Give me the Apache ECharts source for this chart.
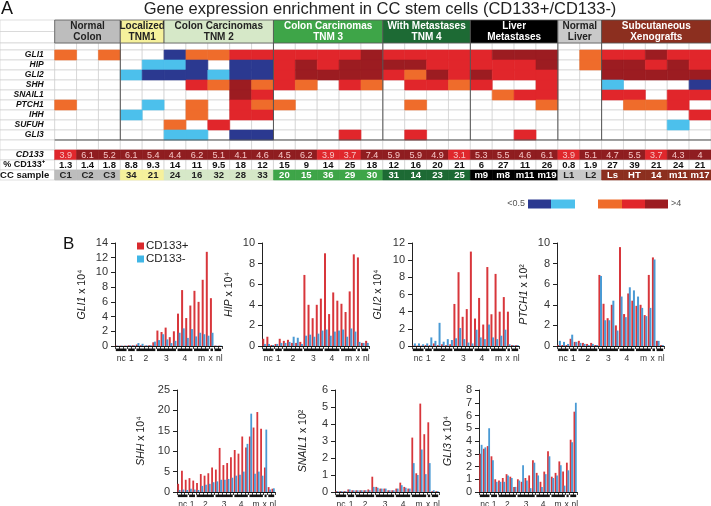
<!DOCTYPE html>
<html><head><meta charset="utf-8">
<script src="https://cdn.jsdelivr.net/npm/echarts@6/dist/echarts.min.js"></script>
<style>html,body{margin:0;padding:0;background:#fff}#c{width:711px;height:506px}</style>
</head><body><div id="c"></div>
<script>
const FF = '"Liberation Sans", Arial, sans-serif';

// ---------------- Panel A data ----------------
const groupLine1 = ['Normal','Localized','Colon Carcinomas','Colon Carcinomas','With Metastases','Liver','Normal','Subcutaneous'];
const groupLine2 = ['Colon','TNM1','TNM 2','TNM 3','TNM 4','Metastases','Liver','Xenografts'];
const groupSizes = [3,2,5,5,4,4,2,5];
const sampleNames = ['C1','C2','C3','34','21','24','16','32','28','33','20','15','36','29','30','31','14','23','25','m9','m8','m11','m19','L1','L2','Ls','HT','14','m11','m17'];
const cd133Ratio = [3.9,6.1,5.2,6.1,5.4,4.4,6.2,5.1,4.1,4.6,4.5,6.2,3.9,3.7,7.4,5.9,5.9,4.9,3.1,5.3,5.5,4.6,6.1,3.9,5.1,4.7,5.5,3.7,4.3,4];
const pctCD133 = [1.3,1.4,1.8,8.8,9.3,14,11,9.5,18,12,15,9,14,25,18,12,16,20,21,6,27,11,26,0.8,1.9,27,39,21,24,21];
const genes = ['GLI1','HIP','GLI2','SHH','SNAIL1','PTCH1','IHH','SUFUH','GLI3'];
// enrichment class: 0 none, 1 <0.5, 2 low, 3 moderate, 4 high, 5 >4
const heatGLI1   = [3,0,3,0,0,1,3,3,4,4, 4,4,4,4,5, 4,4,4,4, 4,5,5,5, 0,3, 4,4,5,4,4];
const heatHIP    = [0,0,0,0,2,2,1,0,1,1, 4,5,4,5,5, 5,5,4,4, 4,4,4,5, 0,3, 5,5,4,5,4];
const heatGLI2   = [0,0,0,2,1,1,1,2,1,1, 4,5,5,5,5, 4,3,5,4, 5,4,4,4, 0,0, 5,5,5,5,5];
const heatSHH    = [0,0,0,0,0,0,4,3,5,3, 4,3,0,4,3, 0,4,4,3, 4,0,0,4, 0,0, 2,0,0,0,1];
const heatSNAIL1 = [0,0,0,0,0,0,0,0,5,4, 0,0,0,0,0, 0,0,0,0, 0,3,4,4, 0,0, 4,4,0,4,4];
const heatPTCH1  = [3,0,0,0,2,0,3,0,4,3, 3,0,0,0,0, 0,3,0,0, 0,0,0,3, 0,0, 0,3,3,4,0];
const heatIHH    = [0,0,0,2,0,0,3,0,4,4, 0,0,0,0,0, 0,0,0,0, 0,0,0,0, 0,0, 0,0,0,0,4];
const heatSUFUH  = [0,0,0,0,0,3,0,4,0,0, 0,0,0,0,0, 0,0,0,0, 0,0,0,0, 0,0, 0,0,0,2,0];
const heatGLI3   = [0,0,0,0,0,2,2,0,1,1, 0,0,0,4,0, 0,4,0,0, 0,0,4,0, 0,0, 0,0,0,0,0];

// ---------------- Panel B data ----------------
const barGroupLabels = ['nc','1','2','3','4','m','x','nl'];
const barGroupSizes = [3,2,5,5,4,4,1,2];
const gli1Plus  = [0.05,0.05,0.05,0.1,0.1,0.2,0.1,0.05,0.1,0.5,2.1,1.9,2.5,1.2,2.0,4.4,7.6,3.8,5.5,7.5,6.0,9.0,12.8,6.5,0.05,0.05];
const gli1Minus = [0.05,0.05,0.05,0.1,0.1,0.4,0.3,0.1,0.1,0.6,0.8,1.6,0.9,0.4,0.7,1.8,2.4,1.1,2.3,1.3,1.8,1.6,1.4,1.8,0.05,0.05];
const hipPlus   = [0.7,0.9,0.1,0.2,0.7,0.5,0.6,0.3,0.3,0.4,6.9,4.0,2.7,4.0,4.6,9.0,3.1,5.2,4.4,4.1,3.3,5.3,8.9,8.6,0.3,0.5];
const hipMinus  = [0.2,0.2,0.1,0.2,0.3,0.3,0.4,0.9,0.8,0.2,1.0,1.1,0.9,1.2,1.5,1.6,1.0,1.4,1.5,1.6,0.9,1.7,1.4,0.4,0.3,0.3];
const gli2Plus  = [0.05,0.05,0.05,0.1,0.1,0.3,0.1,0.2,0.1,0.2,4.9,8.6,3.4,4.3,11.0,3.2,5.6,2.5,9.2,3.7,8.4,4.0,5.7,4.0,0.1,0.1];
const gli2Minus = [0.3,0.3,0.2,0.3,1.0,0.6,2.7,0.5,0.8,0.7,0.9,2.1,0.8,0.4,0.3,1.9,1.0,0.8,2.5,1.0,0.8,1.2,1.9,0.2,0.1,0.1];
const ptch1Plus = [0.1,0.1,0.1,0.7,0.4,0.5,0.3,0.2,0.3,0.1,6.9,4.1,2.7,4.0,2.0,9.6,3.1,5.1,4.4,3.9,4.0,3.0,6.9,8.6,0.5,0.1];
const ptch1Minus= [0.5,0.4,0.2,1.1,0.4,0.3,0.2,0.1,0.2,0.1,6.8,2.5,2.5,4.4,1.5,4.8,2.8,5.7,5.4,4.8,3.7,2.9,3.7,8.4,0.5,0.1];
const shhPlus   = [2.0,5.2,3.0,3.4,2.8,2.2,4.4,4.0,4.6,6.0,5.5,10.8,6.6,7.1,8.5,10.3,9.4,13.6,10.9,13.6,15.8,19.6,15.5,6.0,1.2,0.8];
const shhMinus  = [0.5,0.6,0.5,0.8,0.6,0.5,1.5,1.8,2.0,2.4,2.6,3.0,3.0,3.2,3.5,4.0,4.2,5.0,11.8,19.2,4.5,5.0,4.0,15.3,0.6,0.9];
const snail1Plus  = [0.05,0.05,0.05,0.15,0.1,0.1,0.1,0.1,0.15,0.9,0.3,0.2,0.2,0.1,0.1,0.2,0.55,0.3,0.2,3.2,1.1,5.2,3.4,4.1,0.05,0.05];
const snail1Minus = [0.05,0.05,0.05,0.15,0.1,0.1,0.1,0.1,0.1,0.3,0.25,0.2,0.2,0.1,0.1,0.2,0.4,0.25,0.2,1.7,1.0,2.5,1.05,1.7,0.1,0.05];
const gli3Plus  = [3.0,3.4,3.6,2.8,1.0,0.9,1.1,1.4,1.2,0.4,1.0,0.8,1.1,1.3,2.5,1.5,0.8,1.6,3.2,1.2,1.5,2.4,1.6,2.3,4.1,6.3];
const gli3Minus = [3.7,3.5,5.0,2.5,0.8,0.8,0.8,1.3,1.1,0.4,0.9,2.1,0.9,0.3,2.3,1.3,0.4,1.4,2.8,1.1,1.3,2.1,0.5,1.7,3.9,7.0];

// ---------------- styles / layout ----------------
const HEAT_COLORS = ['#ffffff','#2b3990','#4cc0ec','#ef6c2b','#e1262b','#9c1c21'];
const groupFill = ['#bdbdbd','#f6f19c','#d6e8c8','#3ea548','#1d6a34','#000000','#c9c9c9','#8c2f1f'];
const groupText = ['#222','#222','#222','#fff','#fff','#fff','#222','#fff'];
const GRIDC = '#cbcbcb';
const RED = '#d8363b', BLUE = '#4a9ad4';

const NC = sampleNames.length;
const heatRows = [heatGLI1,heatHIP,heatGLI2,heatSHH,heatSNAIL1,heatPTCH1,heatIHH,heatSUFUH,heatGLI3];
const groupStarts = []; { let s=0; groupSizes.forEach(n=>{groupStarts.push(s); s+=n;}); }
const groupOf = []; groupSizes.forEach((n,g)=>{ for(let i=0;i<n;i++) groupOf.push(g); });

const cells = [];
const add = o => cells.push(o);
add({c0:-2.5,r0:0,c1:0,r1:1.15,fill:'#fff',stroke:GRIDC,lw:0.6});
add({c0:-2.5,r0:1.15,c1:0,r1:2.3,fill:'#fff',stroke:GRIDC,lw:0.6});
const bodyRows = [[2.3,3]];
genes.forEach((g,r)=>bodyRows.push([3+r,4+r]));
bodyRows.push([12,13],[13,14],[14,15],[15,16]);
bodyRows.forEach(([r0,r1])=>{
  add({c0:-2.5,r0,c1:0,r1,fill:'#fff',stroke:GRIDC,lw:0.6});
  for(let c=0;c<NC;c++) add({c0:c,r0,c1:c+1,r1,fill:'#fff',stroke:GRIDC,lw:0.6});
});
heatRows.forEach((row,r)=>row.forEach((v,c)=>{
  if(v) add({c0:c,r0:3+r,c1:c+1,r1:4+r,fill:HEAT_COLORS[v],stroke:HEAT_COLORS[v],lw:0.6});
}));
cd133Ratio.forEach((v,c)=>{
  const col = v<4 ? '#e0272c' : '#8f1d20';
  add({c0:c,r0:13,c1:c+1,r1:14,fill:col,stroke:col,lw:0.6,text:String(v),tc:'#f6c6c6',font:'9px '+FF});
});
pctCD133.forEach((v,c)=>add({c0:c,r0:14,c1:c+1,r1:15,fill:'#fff',stroke:GRIDC,lw:0.6,text:String(v),tc:'#111',font:'bold 9.5px '+FF}));
sampleNames.forEach((s,c)=>{
  const g = groupOf[c];
  add({c0:c,r0:15,c1:c+1,r1:16,fill:groupFill[g],stroke:groupFill[g],lw:0.6,text:s,tc:groupText[g],font:'bold 9.5px '+FF});
});
groupSizes.forEach((n,g)=>{
  const s = groupStarts[g];
  add({c0:s,r0:0,c1:s+n,r1:2.3,fill:groupFill[g],stroke:'#555',lw:0.8});
  add({kind:'text',c:s+n/2,r:0.62,text:groupLine1[g],align:'center',tc:groupText[g],font:'bold 10px '+FF});
  add({kind:'text',c:s+n/2,r:1.68,text:groupLine2[g],align:'center',tc:groupText[g],font:'bold 10px '+FF});
});
groupStarts.slice(1).forEach(s=>{
  if(s===5) return;
  add({kind:'line',c0:s,r0:2.3,c1:s,r1:12,stroke:'#555',lw:1});
});
add({kind:'line',c0:0,r0:12,c1:NC,r1:12,stroke:'#555',lw:1});
genes.forEach((g,r)=>add({kind:'text',c:-0.5,r:3.5+r,text:g,align:'right',tc:'#111',font:'italic bold 8.5px '+FF}));
add({kind:'text',c:-0.5,r:13.5,text:'CD133',align:'right',tc:'#111',font:'italic bold 9px '+FF});
add({kind:'text',c:-0.45,r:14.5,text:'% CD133\u207A',align:'right',tc:'#111',font:'bold 9px '+FF});
add({kind:'text',c:-0.25,r:15.5,text:'CC sample',align:'right',tc:'#111',font:'bold 9.5px '+FF});

function renderHeat(params, api){
  const d = cells[params.dataIndex];
  if(d.kind==='text'){
    const p = api.coord([d.c,d.r]);
    return {type:'text',style:{text:d.text,x:p[0],y:p[1],align:d.align,verticalAlign:'middle',font:d.font,fill:d.tc}};
  }
  const a = api.coord([d.c0,d.r0]), b = api.coord([d.c1,d.r1]);
  if(d.kind==='line'){
    return {type:'line',shape:{x1:a[0],y1:a[1],x2:b[0],y2:b[1]},style:{stroke:d.stroke,lineWidth:d.lw}};
  }
  const rect = {type:'rect',shape:{x:a[0],y:a[1],width:b[0]-a[0],height:b[1]-a[1]},style:{fill:d.fill,stroke:d.stroke,lineWidth:d.lw}};
  if(d.text!=null){
    return {type:'group',children:[rect,{type:'text',style:{text:d.text,x:(a[0]+b[0])/2,y:(a[1]+b[1])/2+0.5,align:'center',verticalAlign:'middle',font:d.font,fill:d.tc}}]};
  }
  return rect;
}

// ---------------- bar panels ----------------
const panels = [
  {gene:'GLI1', exp:'10\u2074', max:14, step:2, plus:gli1Plus, minus:gli1Minus, left:115, top:243, w:107, h:103, gap:27},
  {gene:'HIP',  exp:'10\u2074', max:10, step:2, plus:hipPlus,  minus:hipMinus,  left:262, top:243, w:107, h:103, gap:27},
  {gene:'GLI2', exp:'10\u2074', max:12, step:2, plus:gli2Plus, minus:gli2Minus, left:412, top:243, w:107, h:103, gap:28},
  {gene:'PTCH1',exp:'10\u00B2', max:10, step:2, plus:ptch1Plus,minus:ptch1Minus,left:557, top:243, w:107, h:103, gap:27},
  {gene:'SHH',  exp:'10\u2074', max:25, step:5, plus:shhPlus,  minus:shhMinus,  left:177, top:390, w:98, h:102, gap:30},
  {gene:'SNAIL1',exp:'10\u00B2',max:6,  step:1, plus:snail1Plus,minus:snail1Minus,left:335, top:390, w:104, h:102, gap:26},
  {gene:'GLI3', exp:'10\u2074', max:8,  step:1, plus:gli3Plus, minus:gli3Minus, left:479, top:390, w:98, h:102, gap:25}
];
const groupRanges = []; { let s=0; barGroupSizes.forEach(n=>{groupRanges.push([s,s+n-1,0]); s+=n;}); }
function renderGroups(params, api){
  const s = api.value(0), e = api.value(1);
  const a = api.coord([s,0]), b = api.coord([e,0]);
  const bw = api.size([1,0])[0];
  const x0 = a[0]-bw/2+0.8, x1 = b[0]+bw/2-0.8;
  const lbl = barGroupLabels[params.dataIndex];
  const shift = lbl==='x' ? -1 : (lbl==='nl' ? 1.5 : 0);
  return {type:'group',children:[
    {type:'rect',shape:{x:x0,y:a[1]+2.5,width:x1-x0,height:2.6},style:{fill:'#111'}},
    {type:'text',style:{text:lbl,x:(x0+x1)/2+shift,y:a[1]+12.5,align:'center',verticalAlign:'middle',font:'8.5px '+FF,fill:'#333'}}
  ]};
}

const grids = [{left:0,top:20,width:711,height:160,outerBoundsMode:'none'}];
const xAxes = [{type:'value',gridIndex:0,min:-2.5,max:30,show:false}];
const yAxes = [{type:'value',gridIndex:0,min:0,max:16,inverse:true,show:false}];
const series = [{
  type:'custom',xAxisIndex:0,yAxisIndex:0,clip:false,silent:true,
  renderItem:renderHeat,encode:{x:0,y:1},
  data:cells.map(d=>[d.c0!=null?d.c0:d.c, d.r0!=null?d.r0:d.r])
}];
const catData = gli1Plus.map((v,i)=>String(i));
panels.forEach((p,k)=>{
  const gi = k+1;
  grids.push({left:p.left,top:p.top,width:p.w,height:p.h,outerBoundsMode:'none'});
  xAxes.push({type:'category',gridIndex:gi,data:catData,boundaryGap:true,
    axisLine:{show:true,lineStyle:{color:'#111',width:1}},
    axisTick:{show:true,interval:0,length:3,lineStyle:{color:'#111',width:0.8}},
    axisLabel:{show:false},splitLine:{show:false}});
  yAxes.push({type:'value',gridIndex:gi,min:0,max:p.max,interval:p.step,
    axisLine:{show:true,lineStyle:{color:'#222',width:1}},
    axisTick:{show:true,length:4,lineStyle:{color:'#222'}},
    axisLabel:{fontSize:11,color:'#333',margin:7,fontFamily:FF},
    splitLine:{show:false},
    name:'{g|'+p.gene+'}{n| x '+p.exp+'}',nameLocation:'middle',nameRotate:90,nameGap:p.gap,
    nameTextStyle:{color:'#222',rich:{g:{fontStyle:'italic',fontSize:10.5,fontFamily:FF,color:'#222'},n:{fontSize:10.5,fontFamily:FF,color:'#222'}}}});
  const bw = p.w < 105 ? 1.8 : 2;
  series.push({type:'bar',name:'CD133+',xAxisIndex:gi,yAxisIndex:gi,data:p.plus,barWidth:bw,barGap:'-20%',itemStyle:{color:RED},silent:true});
  series.push({type:'bar',name:'CD133-',xAxisIndex:gi,yAxisIndex:gi,data:p.minus,barWidth:bw,barGap:'-20%',itemStyle:{color:BLUE},silent:true});
  series.push({type:'custom',xAxisIndex:gi,yAxisIndex:gi,clip:false,silent:true,renderItem:renderGroups,
    encode:{x:[0,1],y:2},data:groupRanges});
});

const legendBoxes = [
  {x:528,w:23,c:HEAT_COLORS[1]},{x:551,w:24,c:HEAT_COLORS[2]},
  {x:598,w:24,c:HEAT_COLORS[3]},{x:622,w:23,c:HEAT_COLORS[4]},{x:645,w:23,c:HEAT_COLORS[5]}
];
const graphics = [
  {type:'text',left:1,top:0,style:{text:'A',font:'18px '+FF,fill:'#111'}},
  {type:'text',x:380,y:9,style:{text:'Gene expression enrichment in CC stem cells (CD133+/CD133-)',font:'16.5px '+FF,fill:'#222',align:'center',verticalAlign:'middle'}},
  {type:'text',left:63,top:236,style:{text:'B',font:'17px '+FF,fill:'#111'}},
  {type:'text',x:525,y:204,style:{text:'<0.5',font:'9px '+FF,fill:'#555',align:'right',verticalAlign:'middle'}},
  {type:'text',x:671,y:204,style:{text:'>4',font:'9px '+FF,fill:'#555',align:'left',verticalAlign:'middle'}}
].concat(legendBoxes.map(b=>({type:'rect',shape:{x:b.x,y:199.5,width:b.w,height:9},style:{fill:b.c}})));

const chart = echarts.init(document.getElementById('c'),null,{renderer:'canvas',width:711,height:506});
chart.setOption({
  animation:false,
  backgroundColor:'#ffffff',
  grid:grids, xAxis:xAxes, yAxis:yAxes, series:series,
  legend:{show:true,orient:'vertical',left:132,top:235,itemWidth:7,itemHeight:7,itemGap:1,icon:'rect',
    data:[{name:'CD133+',itemStyle:{color:'#d92a2e'}},{name:'CD133-',itemStyle:{color:'#40b6e6'}}],
    textStyle:{fontSize:11.5,color:'#222',fontFamily:FF,padding:[0,0,0,-3]},selectedMode:false},
  graphic:graphics
});
</script>
</body></html>
